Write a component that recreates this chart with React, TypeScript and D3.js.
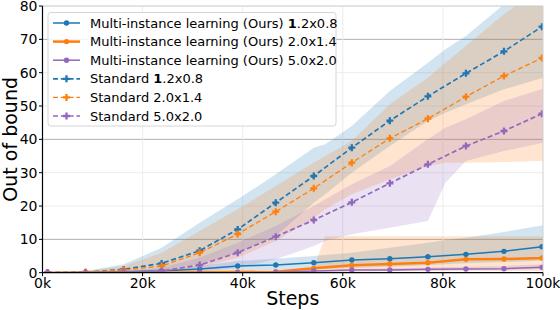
import * as d3 from "d3";

// steps in thousands
const steps = [1, 8.6, 16.2, 23.8, 31.4, 39, 46.6, 54.2, 61.8, 69.4, 77, 84.6, 92.2, 99.8, 100];
const bandSteps = [1, 8.6, 16.2, 23.8, 31.4, 39, 46.6, 54.2, 56.5, 61.8, 69.4, 77, 80.5, 84.6, 92.2, 100];

const sizes = ["1.2x0.8", "2.0x1.4", "5.0x2.0"];
const colors = ["#1f77b4", "#ff7f0e", "#9467bd"];

// Multi-instance learning (ours)
const milMean12 = [0, 0.1, 0.3, 0.5, 1.1, 2.0, 2.3, 3.0, 3.8, 4.2, 4.8, 5.5, 6.4, 7.8, 8.0];
const milMean20 = [0, 0, 0, 0, 0.1, 0.2, 0.3, 1.3, 2.2, 2.6, 3.0, 4.0, 4.1, 4.4, 4.5];
const milMean50 = [0, 0, 0, 0, 0, 0, 0.1, 0.5, 0.8, 0.8, 1.0, 1.1, 1.2, 1.6, 1.6];
const milLo12 = [0, 0, 0, 0, 0.2, 0.5, 0.8, 1.0, 1.1, 1.4, 1.8, 2.2, 2.5, 2.8, 3.2, 3.6];
const milHi12 = [0, 0.2, 0.5, 1, 2, 3.5, 4.2, 5, 5.3, 6, 7.5, 9, 9.8, 10.5, 12.2, 14.2];
const milLo20 = [0, 0, 0, 0, 0, 0, 0, 0.1, 0.2, 0.3, 0.4, 0.4, 0.5, 0.5, 0.5, 0.5];
const milHi20 = [0, 0, 0, 0, 0.1, 0.3, 0.6, 1.5, 10.9, 10.9, 10.9, 10.9, 10.9, 10.9, 10.9, 10.9];
const milLo50 = [0, 0, 0, 0, 0, 0, 0, 0.2, 0.3, 0.4, 0.5, 0.6, 0.7, 0.8, 0.9, 1.0];
const milHi50 = [0, 0, 0, 0, 0, 0.1, 0.3, 0.6, 0.7, 1.0, 1.3, 1.5, 1.6, 1.8, 2.0, 2.5];

// Standard
const stdMean12 = [0, 0.1, 1.0, 2.8, 6.6, 13.0, 21.0, 29.0, 37.5, 45.6, 52.9, 59.8, 66.4, 73.8, 74.1];
const stdMean20 = [0, 0.2, 0.8, 2.0, 6.0, 11.6, 18.3, 25.3, 33.0, 40.3, 46.2, 52.8, 59.0, 64.4, 65.3];
const stdMean50 = [0, 0, 0.2, 0.5, 2.3, 6.0, 10.8, 15.8, 21.1, 26.8, 32.5, 38.0, 42.5, 47.7, 48.0];
const stdLo12 = [0, 0, 0.2, 0.8, 2.5, 6, 11, 21, 23.5, 30, 38, 45.5, 48, 50.5, 55, 58.5];
const stdHi12 = [0, 0.5, 2.5, 7.5, 15, 22, 29.5, 37.5, 38.5, 44, 54.5, 63, 67, 71, 80.5, 89];
const stdLo20 = [0, 0, 0, 0.2, 1.5, 4.5, 9.5, 16.5, 19, 23.5, 28, 32, 33, 33, 33.2, 33.6];
const stdHi20 = [0, 0.4, 2, 6, 12.5, 19, 26, 33, 35, 39.5, 50.5, 58.5, 63, 68, 77.5, 86];
const stdLo50 = [0, 0, 0, 0, 0.3, 1.5, 4, 8, 9.5, 11.5, 13.5, 15.5, 27, 33.5, 36.5, 39];
const stdHi50 = [0, 0, 0.5, 1.5, 4.5, 9, 14, 20, 22, 26.5, 32, 40, 43.5, 46, 51.5, 55.2];

const xTicks = [0, 20, 40, 60, 80, 100];
const yTicks = [0, 10, 20, 30, 40, 50, 60, 70, 80];
const strongGrid = [10, 40, 70];

const W = 560;
const H = 310;
const m = { left: 42.5, right: 17, top: 6, bottom: 37.3 };
const FONT = "DejaVu Sans, sans-serif";

type Series = {
  name: string;
  size: string;
  color: string;
  mean: number[];
  lo: number[];
  hi: number[];
  dashed: boolean;
  width: number;
};

const series: Series[] = [
  { name: "Multi-instance learning (Ours)", size: sizes[0], color: colors[0], mean: milMean12, lo: milLo12, hi: milHi12, dashed: false, width: 1.5 },
  { name: "Multi-instance learning (Ours)", size: sizes[1], color: colors[1], mean: milMean20, lo: milLo20, hi: milHi20, dashed: false, width: 2.5 },
  { name: "Multi-instance learning (Ours)", size: sizes[2], color: colors[2], mean: milMean50, lo: milLo50, hi: milHi50, dashed: false, width: 1.5 },
  { name: "Standard", size: sizes[0], color: colors[0], mean: stdMean12, lo: stdLo12, hi: stdHi12, dashed: true, width: 1.7 },
  { name: "Standard", size: sizes[1], color: colors[1], mean: stdMean20, lo: stdLo20, hi: stdHi20, dashed: true, width: 1.3 },
  { name: "Standard", size: sizes[2], color: colors[2], mean: stdMean50, lo: stdLo50, hi: stdHi50, dashed: true, width: 1.7 },
];

function SizeLabel({ s }: { s: string }) {
  // leading "1" is set in bold in the original legend
  if (s.startsWith("1")) {
    return (
      <>
        <tspan fontWeight="bold">1</tspan>
        {s.slice(1)}
      </>
    );
  }
  return <>{s}</>;
}

export default function App() {
  const x = d3.scaleLinear().domain([0, 100]).range([m.left, W - m.right]);
  const y = d3.scaleLinear().domain([0, 80]).range([H - m.bottom, m.top]);

  const line = d3
    .line<number>()
    .x((_, i) => x(steps[i]))
    .y((d) => y(d));

  const cross = d3.symbol(d3.symbolCross, 27)() ?? "";

  const bandPath = (s: Series) =>
    d3
      .area<number>()
      .x((_, i) => x(bandSteps[i]))
      .y0((_, i) => y(s.lo[i]))
      .y1((d) => y(d))(s.hi) ?? "";

  const legendRows = [23, 41.6, 60.2, 78.8, 97.4, 116];

  return (
    <svg
      width={W}
      height={H}
      style={{ position: "absolute", left: 0, top: 0, fontFamily: FONT }}
    >
      <defs>
        <clipPath id="plot">
          <rect x={m.left} y={m.top} width={W - m.left - m.right} height={H - m.top - m.bottom} />
        </clipPath>
      </defs>

      {/* grid */}
      {yTicks.map((t) => (
        <line
          key={"gy" + t}
          x1={m.left}
          x2={W - m.right}
          y1={y(t)}
          y2={y(t)}
          stroke={strongGrid.includes(t) ? "#b0b0b0" : "#ececec"}
          strokeWidth={1}
        />
      ))}
      {xTicks.slice(1, -1).map((t) => (
        <line key={"gx" + t} x1={x(t)} x2={x(t)} y1={m.top} y2={H - m.bottom} stroke="#ececec" />
      ))}

      <g clipPath="url(#plot)">
        {series.map((s, i) => (
          <path key={"b" + i} d={bandPath(s)} fill={s.color} fillOpacity={0.2} />
        ))}
        {series.map((s, i) => (
          <g key={"l" + i}>
            <path
              d={line(s.mean) ?? ""}
              fill="none"
              stroke={s.color}
              strokeWidth={s.width}
              strokeDasharray={s.dashed ? "5,2.8" : undefined}
            />
            {s.mean.slice(0, -1).map((v, j) =>
              s.dashed ? (
                <path key={j} d={cross} transform={`translate(${x(steps[j])},${y(v)})`} fill={s.color} />
              ) : (
                <circle key={j} cx={x(steps[j])} cy={y(v)} r={2.7} fill={s.color} />
              )
            )}
          </g>
        ))}
      </g>

      {/* spines */}
      <line x1={m.left} x2={W - m.right} y1={m.top} y2={m.top} stroke="#d0d0d0" />
      <line x1={W - m.right} x2={W - m.right} y1={m.top} y2={H - m.bottom} stroke="#d0d0d0" />
      <line x1={m.left} x2={m.left} y1={m.top} y2={H - m.bottom} stroke="#000" strokeWidth={1.2} />
      <line x1={m.left} x2={W - m.right} y1={H - m.bottom} y2={H - m.bottom} stroke="#000" strokeWidth={1.2} />

      {/* ticks */}
      {yTicks.map((t) => (
        <g key={"ty" + t}>
          <line x1={m.left - 3.5} x2={m.left} y1={y(t)} y2={y(t)} stroke="#000" />
          <text x={m.left - 5} y={y(t)} dy="0.36em" textAnchor="end" fontSize={14}>
            {t}
          </text>
        </g>
      ))}
      {xTicks.map((t) => (
        <g key={"tx" + t}>
          <line x1={x(t)} x2={x(t)} y1={H - m.bottom} y2={H - m.bottom + 3.5} stroke="#000" />
          <text x={x(t)} y={H - m.bottom + 15.5} textAnchor="middle" fontSize={14}>
            {t}k
          </text>
        </g>
      ))}

      <text x={x(50)} y={305} textAnchor="middle" fontSize={19}>
        Steps
      </text>
      <text
        transform={`translate(17,${(y(0) + y(80)) / 2}) rotate(-90)`}
        textAnchor="middle"
        fontSize={19}
      >
        Out of bound
      </text>

      {/* legend */}
      <rect x={48} y={12.5} width={288} height={113.5} rx={3} fill="#fff" fillOpacity={0.85} stroke="#d6d6d6" />
      {series.map((s, i) => (
        <g key={"lg" + i} transform={`translate(0,${legendRows[i]})`}>
          <line
            x1={53}
            x2={80}
            y1={0}
            y2={0}
            stroke={s.color}
            strokeWidth={s.width}
            strokeDasharray={s.dashed ? "5,2.8" : undefined}
          />
          {s.dashed ? (
            <path d={cross} transform="translate(66.5,0)" fill={s.color} />
          ) : (
            <circle cx={66.5} cy={0} r={2.7} fill={s.color} />
          )}
          <text x={90} y={0} dy="0.35em" fontSize={13}>
            {s.name} <SizeLabel s={s.size} />
          </text>
        </g>
      ))}
    </svg>
  );
}
